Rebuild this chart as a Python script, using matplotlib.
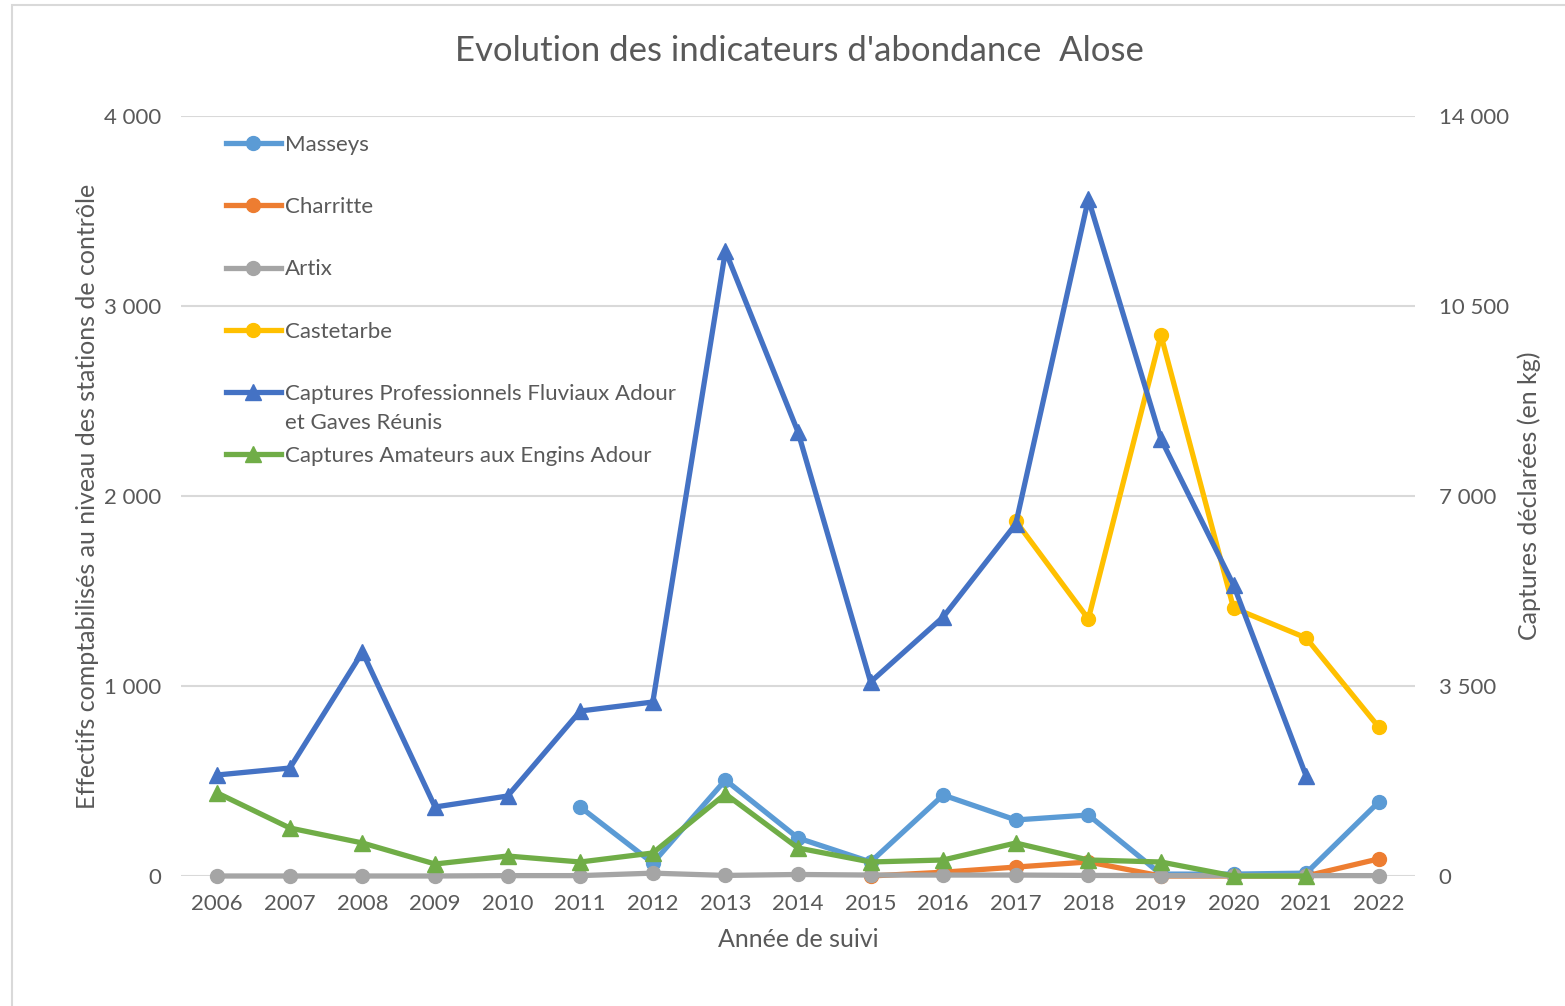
import numpy as np
import matplotlib.pyplot as plt
from matplotlib.patches import Rectangle
from matplotlib.ticker import FuncFormatter

plt.rcParams['font.family'] = ['Lato', 'DejaVu Sans']

annees = list(range(2006, 2023))

# left axis: counts at control stations
masseys_years = list(range(2011, 2023))
masseys = [363, 68, 505, 200, 74, 426, 295, 321, 10, 10, 15, 389]
charritte_years = list(range(2015, 2023))
charritte = [0, 20, 47, 74, 0, 0, 0, 90]
artix = [0, 0, 0, 0, 2, 2, 15, 3, 8, 5, 5, 5, 3, 2, 2, 2, 2]
castetarbe_years = list(range(2017, 2023))
castetarbe = [1868, 1353, 2847, 1411, 1253, 784]

# right axis: declared catches (kg)
pro_years = list(range(2006, 2022))
pro = [1861, 1989, 4126, 1271, 1474, 3039, 3205, 11513, 8179, 3574, 4771, 6484, 12471, 8050, 5361, 1842]
amateurs_years = list(range(2006, 2022))
amateurs = [1529, 884, 608, 221, 368, 258, 424, 1511, 516, 258, 295, 608, 295, 258, 0, 0]

txt = '#595959'
fig = plt.figure(figsize=(15.65, 10.06), dpi=100)
ax = fig.add_axes([181/1565, 1-876/1006, (1415-181)/1565, (876-116)/1006])
ax2 = ax.twinx()

kw = dict(lw=3.8, clip_on=False)
l1, = ax.plot(masseys_years, masseys, color='#5B9BD5', marker='o', ms=10, label='Masseys', **kw)
l2, = ax.plot(charritte_years, charritte, color='#ED7D31', marker='o', ms=10, label='Charritte', **kw)
l3, = ax.plot(annees, artix, color='#A5A5A5', marker='o', ms=10, label='Artix', **kw)
l4, = ax.plot(castetarbe_years, castetarbe, color='#FFC000', marker='o', ms=10, label='Castetarbe', **kw)
l5, = ax2.plot(pro_years, pro, color='#4472C4', marker='^', ms=12,
               label='Captures Professionnels Fluviaux Adour', **kw)
l6, = ax2.plot(amateurs_years, amateurs, color='#70AD47', marker='^', ms=12,
               label='Captures Amateurs aux Engins Adour', **kw)

ax.set_xlim(2005.5, 2022.5)
ax.set_ylim(0, 4000)
ax2.set_ylim(0, 14000)
ax.set_yticks([0, 1000, 2000, 3000, 4000])
ax2.set_yticks([0, 3500, 7000, 10500, 14000])
ax.set_xticks(annees)
fmt = FuncFormatter(lambda v, p: '{:,.0f}'.format(v).replace(',', ' '))
ax.yaxis.set_major_formatter(fmt)
ax2.yaxis.set_major_formatter(fmt)
ax.grid(axis='y', color='#D9D9D9', lw=1.5)
ax.set_axisbelow(True)
for a in (ax, ax2):
    for s in a.spines.values():
        s.set_visible(False)
    a.tick_params(length=0, labelsize=16, labelcolor=txt)
ax.tick_params(axis='y', pad=14)
ax2.tick_params(axis='y', pad=17)
ax.tick_params(axis='x', pad=13)

ax.set_xlabel('Année de suivi', fontsize=18, color=txt, labelpad=10)
ax.set_ylabel('Effectifs comptabilisés au niveau des stations de contrôle', fontsize=18, color=txt, labelpad=4)
ax2.set_ylabel('Captures déclarées (en kg)', fontsize=18, color=txt, labelpad=6)
fig.text(0.511, 1-51/1006, "Evolution des indicateurs d'abondance  Alose", fontsize=25,
         color=txt, ha='center', va='center')

leg = ax2.legend(handles=[l1, l2, l3, l4, l5, l6], loc='upper left',
                 bbox_to_anchor=(0.029, 1-(126-116)/760),
                 frameon=False, fontsize=16, labelcolor=txt, labelspacing=1.9,
                 handlelength=2.5, handletextpad=0.15, borderaxespad=0)

# second line of the long legend label
fig.canvas.draw()
bb = leg.get_texts()[4].get_window_extent()
fig.text(bb.x0 / fig.bbox.width, (bb.y0 - 9) / fig.bbox.height, 'et Gaves Réunis',
         fontsize=16, color=txt, ha='left', va='top')

fig.add_artist(Rectangle((12/1565, -0.01), 1.1, 1-5/1006+0.01, transform=fig.transFigure,
                         fill=False, edgecolor='#D9D9D9', lw=1.5))

fig.savefig('out.png', dpi=100)
